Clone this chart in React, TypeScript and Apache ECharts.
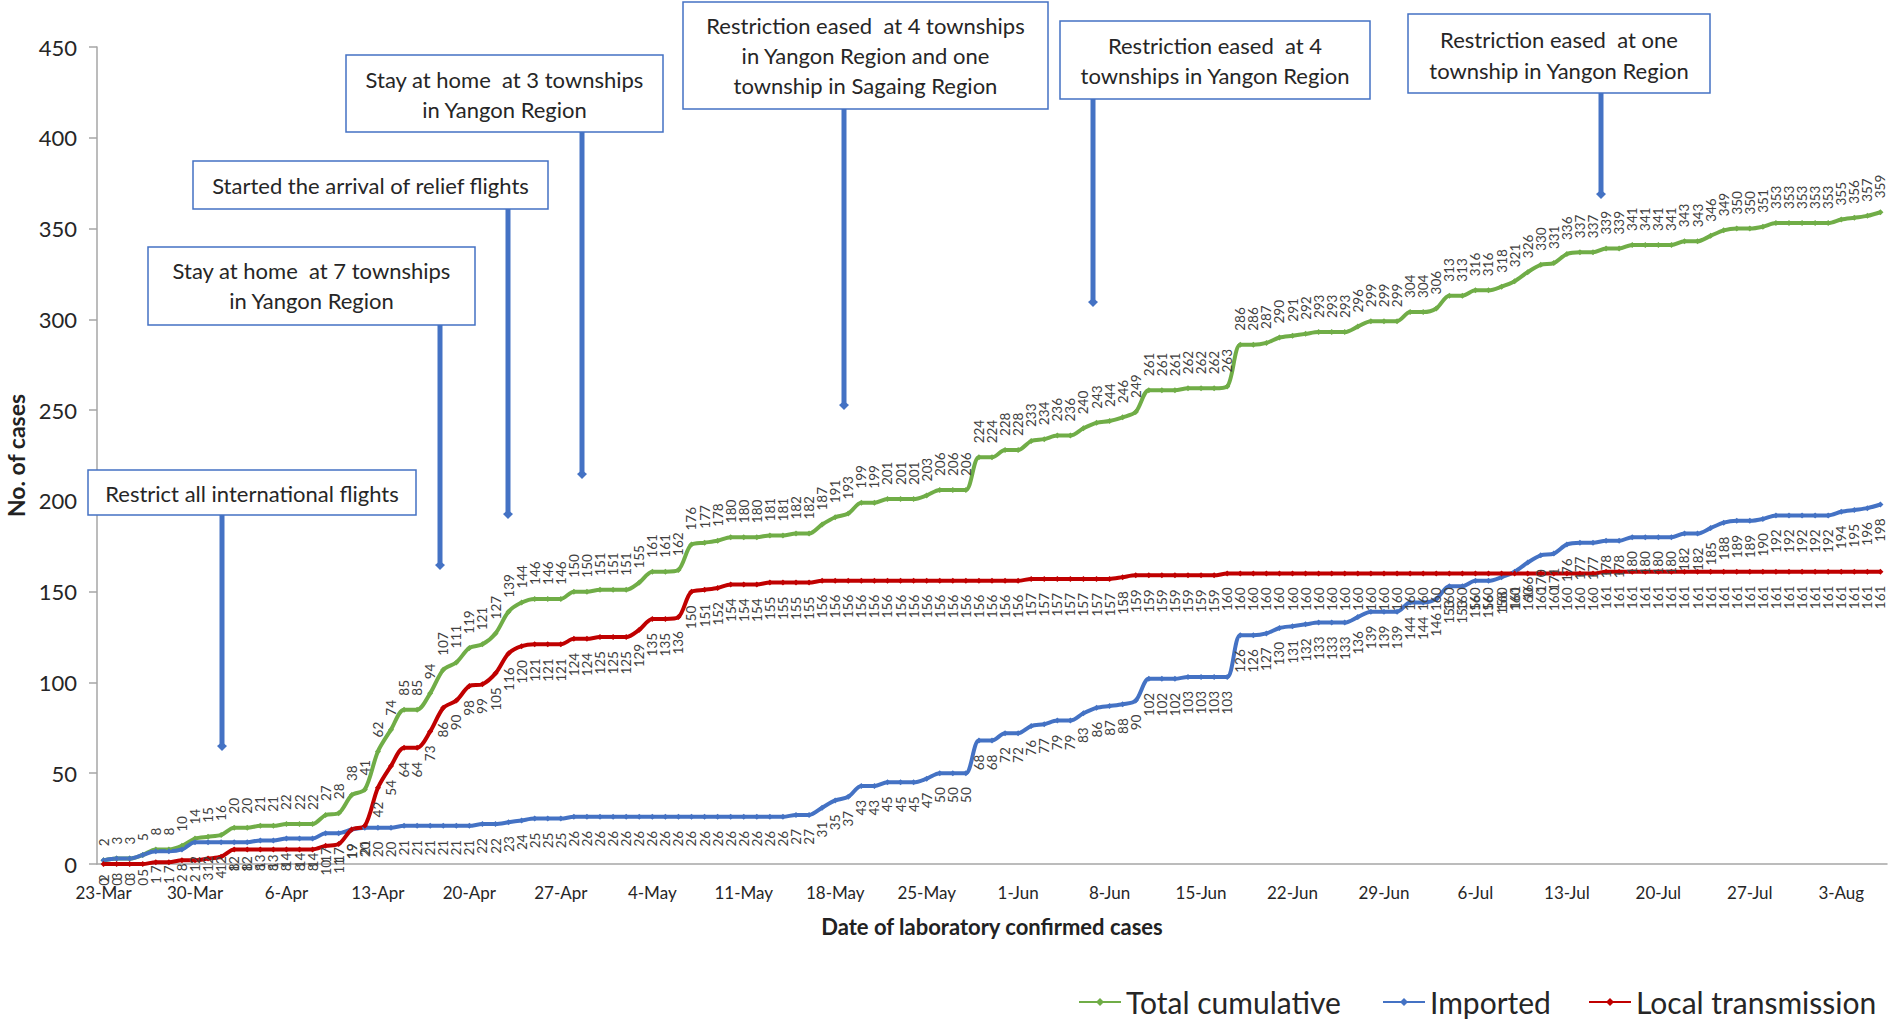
import { useEffect, useRef } from "react";
import * as echarts from "echarts";

// ---- categories (daily dates 23-Mar .. 6-Aug) ----
const monthSpans: [string, number, number][] = [
  ["Mar", 23, 31],
  ["Apr", 1, 30],
  ["May", 1, 31],
  ["Jun", 1, 30],
  ["Jul", 1, 31],
  ["Aug", 1, 6],
];
const categories: string[] = [];
monthSpans.forEach(([m, a, b]) => {
  for (let d = a; d <= b; d++) categories.push(`${d}-${m}`);
});

// ---- series values ----
const totalCumulative = [
  2, 3, 3, 5, 8, 8, 10, 14, 15, 16,
  20, 20, 21, 21, 22, 22, 22, 27, 28, 38,
  41, 62, 74, 85, 85, 94, 107, 111, 119, 121,
  127, 139, 144, 146, 146, 146, 150, 150, 151, 151,
  151, 155, 161, 161, 162, 176, 177, 178, 180, 180,
  180, 181, 181, 182, 182, 187, 191, 193, 199, 199,
  201, 201, 201, 203, 206, 206, 206, 224, 224, 228,
  228, 233, 234, 236, 236, 240, 243, 244, 246, 249,
  261, 261, 261, 262, 262, 262, 263, 286, 286, 287,
  290, 291, 292, 293, 293, 293, 296, 299, 299, 299,
  304, 304, 306, 313, 313, 316, 316, 318, 321, 326,
  330, 331, 336, 337, 337, 339, 339, 341, 341, 341,
  341, 343, 343, 346, 349, 350, 350, 351, 353, 353,
  353, 353, 353, 355, 356, 357, 359,
];

const imported = [
  2, 3, 3, 5, 7, 7, 8, 12, 12, 12,
  12, 12, 13, 13, 14, 14, 14, 17, 17, 19,
  20, 20, 20, 21, 21, 21, 21, 21, 21, 22,
  22, 23, 24, 25, 25, 25, 26, 26, 26, 26,
  26, 26, 26, 26, 26, 26, 26, 26, 26, 26,
  26, 26, 26, 27, 27, 31, 35, 37, 43, 43,
  45, 45, 45, 47, 50, 50, 50, 68, 68, 72,
  72, 76, 77, 79, 79, 83, 86, 87, 88, 90,
  102, 102, 102, 103, 103, 103, 103, 126, 126, 127,
  130, 131, 132, 133, 133, 133, 136, 139, 139, 139,
  144, 144, 146, 153, 153, 156, 156, 158, 161, 166,
  170, 171, 176, 177, 177, 178, 178, 180, 180, 180,
  180, 182, 182, 185, 188, 189, 189, 190, 192, 192,
  192, 192, 192, 194, 195, 196, 198,
];

const localTransmission = [
  0, 0, 0, 0, 1, 1, 2, 2, 3, 4,
  8, 8, 8, 8, 8, 8, 8, 10, 11, 19,
  21, 42, 54, 64, 64, 73, 86, 90, 98, 99,
  105, 116, 120, 121, 121, 121, 124, 124, 125, 125,
  125, 129, 135, 135, 136, 150, 151, 152, 154, 154,
  154, 155, 155, 155, 155, 156, 156, 156, 156, 156,
  156, 156, 156, 156, 156, 156, 156, 156, 156, 156,
  156, 157, 157, 157, 157, 157, 157, 157, 158, 159,
  159, 159, 159, 159, 159, 159, 160, 160, 160, 160,
  160, 160, 160, 160, 160, 160, 160, 160, 160, 160,
  160, 160, 160, 160, 160, 160, 160, 160, 160, 160,
  160, 160, 160, 160, 160, 161, 161, 161, 161, 161,
  161, 161, 161, 161, 161, 161, 161, 161, 161, 161,
  161, 161, 161, 161, 161, 161, 161,
];

const seriesNames = ["Total cumulative", "Imported", "Local transmission"];

// ---- annotations ----
const annotationTexts: string[][] = [
  ["Restrict all international flights"],
  ["Stay at home  at 7 townships", "in Yangon Region"],
  ["Started the arrival of relief flights"],
  ["Stay at home  at 3 townships", "in Yangon Region"],
  ["Restriction eased  at 4 townships", "in Yangon Region and one", "township in Sagaing Region"],
  ["Restriction eased  at 4", "townships in Yangon Region"],
  ["Restriction eased  at one", "township in Yangon Region"],
];
const boxGeom = [
  { x: 88, y: 470, w: 328, h: 45, ly: [493] },
  { x: 148, y: 247, w: 327, h: 78, ly: [270, 300] },
  { x: 193, y: 161, w: 355, h: 48, ly: [185] },
  { x: 346, y: 55, w: 317, h: 77, ly: [79, 109] },
  { x: 683, y: 2, w: 365, h: 107, ly: [25, 55, 85] },
  { x: 1060, y: 21, w: 310, h: 78, ly: [45, 75] },
  { x: 1408, y: 14, w: 302, h: 79, ly: [39, 70] },
];
const arrowGeom = [
  { x: 222, y1: 515, y2: 749 },
  { x: 440, y1: 325, y2: 568 },
  { x: 508, y1: 209, y2: 517 },
  { x: 582, y1: 132, y2: 477 },
  { x: 844, y1: 109, y2: 408 },
  { x: 1093, y1: 99, y2: 305 },
  { x: 1601, y1: 93, y2: 197 },
];

const FONT = "Lato, 'Noto Sans', sans-serif";
const GREEN = "#70AD47";
const BLUE = "#4472C4";
const RED = "#C00000";
const LABEL_COLOR = "#404040";

function buildGraphics() {
  const els: any[] = [];
  boxGeom.forEach((b, i) => {
    els.push({
      type: "rect",
      shape: { x: b.x, y: b.y, width: b.w, height: b.h },
      style: { fill: "#ffffff", stroke: BLUE, lineWidth: 1.5 },
      z: 100,
    });
    annotationTexts[i].forEach((t, j) => {
      els.push({
        type: "text",
        x: b.x + b.w / 2,
        y: b.ly[j],
        style: {
          text: t,
          fill: "#262626",
          font: `22px ${FONT}`,
          align: "center",
          verticalAlign: "middle",
        },
        z: 101,
      });
    });
  });
  arrowGeom.forEach((a) => {
    els.push({
      type: "line",
      shape: { x1: a.x, y1: a.y1, x2: a.x, y2: a.y2 - 3 },
      style: { stroke: BLUE, lineWidth: 5 },
      z: 100,
    });
    els.push({
      type: "polygon",
      shape: {
        points: [
          [a.x - 5, a.y2 - 3],
          [a.x, a.y2 - 7],
          [a.x + 5, a.y2 - 3],
          [a.x, a.y2 + 2],
        ],
      },
      style: { fill: BLUE },
      z: 100,
    });
  });
  return els;
}

function makeSeries(name: string, data: number[], color: string, pos: "top" | "bottom") {
  return {
    name,
    type: "line",
    data,
    smooth: 0.3,
    symbol: "diamond",
    symbolSize: 6,
    showSymbol: true,
    showAllSymbol: true,
    lineStyle: { color, width: 4 },
    itemStyle: { color },
    label: {
      show: true,
      position: pos,
      distance: 11,
      rotate: 90,
      align: pos === "top" ? "left" : "right",
      verticalAlign: "middle",
      color: LABEL_COLOR,
      fontSize: 13.5,
      fontFamily: FONT,
    },
    emphasis: { disabled: true },
  };
}

export default function App() {
  const ref = useRef<HTMLDivElement>(null);
  useEffect(() => {
    if (!ref.current) return;
    const chart = echarts.init(ref.current, null, { renderer: "svg" });
    const legendBase = {
      orient: "horizontal",
      itemWidth: 42,
      itemHeight: 10,
      padding: 0,
      textStyle: { fontSize: 30, color: "#262626", fontFamily: FONT },
      selectedMode: false,
    };
    chart.setOption({
      animation: false,
      backgroundColor: "#ffffff",
      textStyle: { fontFamily: FONT },
      grid: {
        left: 97,
        right: 13,
        top: 47,
        bottom: 158,
        containLabel: false,
        outerBoundsMode: "none",
      },
      legend: [
        { ...legendBase, data: [seriesNames[0]], left: 1078, top: 987 },
        { ...legendBase, data: [seriesNames[1]], left: 1382, top: 987 },
        { ...legendBase, data: [seriesNames[2]], left: 1588, top: 987 },
      ],
      xAxis: {
        type: "category",
        data: categories,
        boundaryGap: true,
        name: "Date of laboratory confirmed cases",
        nameLocation: "middle",
        nameGap: 51,
        nameTextStyle: { fontSize: 22, fontWeight: "bold", color: "#222", fontFamily: FONT },
        axisLine: { lineStyle: { color: "#A6A6A6", width: 1.5 } },
        axisTick: { show: false },
        axisLabel: {
          interval: 6,
          fontSize: 17,
          color: "#262626",
          margin: 20,
          fontFamily: FONT,
        },
        splitLine: { show: false },
      },
      yAxis: {
        type: "value",
        min: 0,
        max: 450,
        interval: 50,
        name: "No. of cases",
        nameLocation: "middle",
        nameGap: 63,
        nameRotate: 90,
        nameTextStyle: { fontSize: 23, fontWeight: "bold", color: "#222", fontFamily: FONT },
        axisLine: { show: true, lineStyle: { color: "#A6A6A6", width: 1.5 } },
        axisTick: { show: true, length: 8, lineStyle: { color: "#A6A6A6", width: 1.5 } },
        axisLabel: { fontSize: 22, color: "#262626", margin: 20, fontFamily: FONT },
        splitLine: { show: false },
      },
      series: [
        makeSeries(seriesNames[0], totalCumulative, GREEN, "top"),
        makeSeries(seriesNames[1], imported, BLUE, "bottom"),
        makeSeries(seriesNames[2], localTransmission, RED, "bottom"),
      ],
      graphic: buildGraphics(),
    });
    return () => chart.dispose();
  }, []);
  return (
    <div
      ref={ref}
      style={{ position: "fixed", left: 0, top: 0, width: 1900, height: 1022 }}
    />
  );
}
